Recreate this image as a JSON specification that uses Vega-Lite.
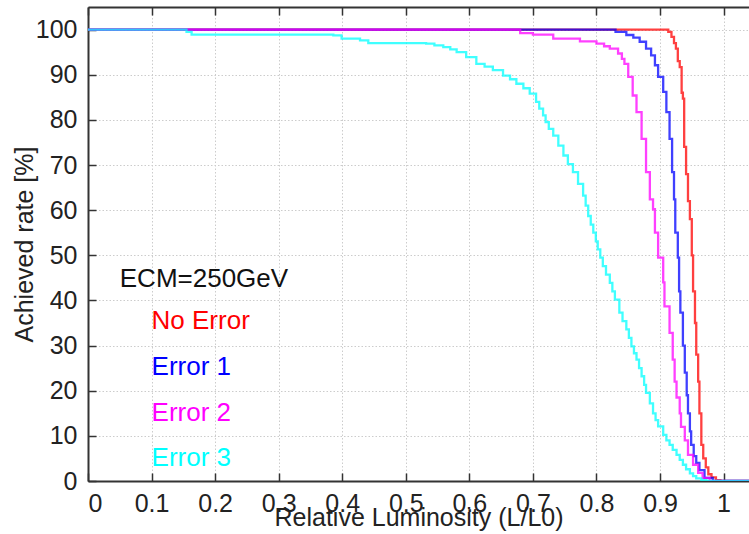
{
  "$schema": "https://vega.github.io/schema/vega-lite/v6.json",
  "width": 661,
  "height": 474,
  "autosize": "none",
  "padding": {"left": 88, "top": 7, "right": 0, "bottom": 53},
  "background": "white",
  "config": {
    "view": {"stroke": null},
    "font": "Liberation Sans",
    "axis": {
      "labelFont": "Liberation Sans",
      "titleFont": "Liberation Sans",
      "labelFontSize": 25,
      "titleFontSize": 25,
      "labelColor": "#222",
      "titleColor": "#222",
      "titleFontWeight": "normal",
      "domainColor": "#333",
      "domainWidth": 2,
      "tickColor": "#333",
      "tickWidth": 1.5,
      "tickSize": -8,
      "gridColor": "#cccccc",
      "gridDash": [1.5, 2],
      "gridWidth": 1
    }
  },
  "datasets": {
    "curves": [
      {"series": "No Error", "x": 0, "y": 100},
      {"series": "No Error", "x": 0.908, "y": 100},
      {"series": "No Error", "x": 0.913, "y": 99.5},
      {"series": "No Error", "x": 0.918, "y": 98.4},
      {"series": "No Error", "x": 0.922, "y": 97},
      {"series": "No Error", "x": 0.925, "y": 95.8},
      {"series": "No Error", "x": 0.928, "y": 93},
      {"series": "No Error", "x": 0.931, "y": 91.7},
      {"series": "No Error", "x": 0.934, "y": 86},
      {"series": "No Error", "x": 0.936, "y": 84.7},
      {"series": "No Error", "x": 0.938, "y": 74},
      {"series": "No Error", "x": 0.941, "y": 68},
      {"series": "No Error", "x": 0.944, "y": 62},
      {"series": "No Error", "x": 0.947, "y": 58},
      {"series": "No Error", "x": 0.95, "y": 50},
      {"series": "No Error", "x": 0.952, "y": 42},
      {"series": "No Error", "x": 0.955, "y": 35},
      {"series": "No Error", "x": 0.957, "y": 28},
      {"series": "No Error", "x": 0.96, "y": 22},
      {"series": "No Error", "x": 0.962, "y": 15},
      {"series": "No Error", "x": 0.965, "y": 8},
      {"series": "No Error", "x": 0.968, "y": 5},
      {"series": "No Error", "x": 0.972, "y": 3},
      {"series": "No Error", "x": 0.976, "y": 1.5},
      {"series": "No Error", "x": 0.981, "y": 0.8},
      {"series": "No Error", "x": 0.988, "y": 0.2},
      {"series": "No Error", "x": 0.995, "y": 0},
      {"series": "No Error", "x": 1.04, "y": 0},

      {"series": "Error 1", "x": 0, "y": 100},
      {"series": "Error 1", "x": 0.815, "y": 100},
      {"series": "Error 1", "x": 0.83, "y": 99.5},
      {"series": "Error 1", "x": 0.847, "y": 98.8},
      {"series": "Error 1", "x": 0.858, "y": 98.2},
      {"series": "Error 1", "x": 0.868, "y": 97.3},
      {"series": "Error 1", "x": 0.878, "y": 95.8},
      {"series": "Error 1", "x": 0.886, "y": 94.3},
      {"series": "Error 1", "x": 0.892, "y": 92.1},
      {"series": "Error 1", "x": 0.897, "y": 89.5},
      {"series": "Error 1", "x": 0.905, "y": 86.2},
      {"series": "Error 1", "x": 0.91, "y": 81.7},
      {"series": "Error 1", "x": 0.915, "y": 75.8},
      {"series": "Error 1", "x": 0.919, "y": 68.4},
      {"series": "Error 1", "x": 0.922, "y": 62.4},
      {"series": "Error 1", "x": 0.924, "y": 55},
      {"series": "Error 1", "x": 0.928, "y": 49.5},
      {"series": "Error 1", "x": 0.93, "y": 42},
      {"series": "Error 1", "x": 0.932, "y": 37.3},
      {"series": "Error 1", "x": 0.936, "y": 30},
      {"series": "Error 1", "x": 0.939, "y": 24},
      {"series": "Error 1", "x": 0.942, "y": 19},
      {"series": "Error 1", "x": 0.944, "y": 15},
      {"series": "Error 1", "x": 0.947, "y": 11},
      {"series": "Error 1", "x": 0.949, "y": 8},
      {"series": "Error 1", "x": 0.953, "y": 5.5},
      {"series": "Error 1", "x": 0.957, "y": 4},
      {"series": "Error 1", "x": 0.962, "y": 2.4},
      {"series": "Error 1", "x": 0.97, "y": 0.7},
      {"series": "Error 1", "x": 0.983, "y": 0},
      {"series": "Error 1", "x": 1.04, "y": 0},

      {"series": "Error 2", "x": 0, "y": 100},
      {"series": "Error 2", "x": 0.664, "y": 100},
      {"series": "Error 2", "x": 0.68, "y": 99.2},
      {"series": "Error 2", "x": 0.7, "y": 98.9},
      {"series": "Error 2", "x": 0.732, "y": 98},
      {"series": "Error 2", "x": 0.774, "y": 97.4},
      {"series": "Error 2", "x": 0.8, "y": 96.9},
      {"series": "Error 2", "x": 0.812, "y": 96.3},
      {"series": "Error 2", "x": 0.821, "y": 95.8},
      {"series": "Error 2", "x": 0.834, "y": 94.7},
      {"series": "Error 2", "x": 0.84, "y": 93.5},
      {"series": "Error 2", "x": 0.844, "y": 92.4},
      {"series": "Error 2", "x": 0.85, "y": 89.5},
      {"series": "Error 2", "x": 0.857, "y": 85.4},
      {"series": "Error 2", "x": 0.863, "y": 81.7},
      {"series": "Error 2", "x": 0.871, "y": 75.8},
      {"series": "Error 2", "x": 0.878, "y": 68.4},
      {"series": "Error 2", "x": 0.884, "y": 62.4},
      {"series": "Error 2", "x": 0.889, "y": 60.2},
      {"series": "Error 2", "x": 0.892, "y": 55},
      {"series": "Error 2", "x": 0.897, "y": 49.5},
      {"series": "Error 2", "x": 0.905, "y": 44},
      {"series": "Error 2", "x": 0.907, "y": 38.7},
      {"series": "Error 2", "x": 0.915, "y": 32.8},
      {"series": "Error 2", "x": 0.92, "y": 26.9},
      {"series": "Error 2", "x": 0.923, "y": 22},
      {"series": "Error 2", "x": 0.926, "y": 18.5},
      {"series": "Error 2", "x": 0.931, "y": 15},
      {"series": "Error 2", "x": 0.933, "y": 12},
      {"series": "Error 2", "x": 0.939, "y": 9},
      {"series": "Error 2", "x": 0.944, "y": 5.8},
      {"series": "Error 2", "x": 0.952, "y": 3.6},
      {"series": "Error 2", "x": 0.96, "y": 1.8},
      {"series": "Error 2", "x": 0.967, "y": 0.7},
      {"series": "Error 2", "x": 0.978, "y": 0},
      {"series": "Error 2", "x": 1.04, "y": 0},

      {"series": "Error 3", "x": 0, "y": 100},
      {"series": "Error 3", "x": 0.145, "y": 100},
      {"series": "Error 3", "x": 0.155, "y": 99.5},
      {"series": "Error 3", "x": 0.163, "y": 98.9},
      {"series": "Error 3", "x": 0.386, "y": 98.7},
      {"series": "Error 3", "x": 0.399, "y": 98},
      {"series": "Error 3", "x": 0.428, "y": 97.6},
      {"series": "Error 3", "x": 0.441, "y": 97},
      {"series": "Error 3", "x": 0.532, "y": 96.9},
      {"series": "Error 3", "x": 0.545, "y": 96.5},
      {"series": "Error 3", "x": 0.559, "y": 96.1},
      {"series": "Error 3", "x": 0.57, "y": 95.6},
      {"series": "Error 3", "x": 0.58, "y": 95},
      {"series": "Error 3", "x": 0.595, "y": 93.9},
      {"series": "Error 3", "x": 0.611, "y": 92.4},
      {"series": "Error 3", "x": 0.624, "y": 91.8},
      {"series": "Error 3", "x": 0.637, "y": 91},
      {"series": "Error 3", "x": 0.653, "y": 89.8},
      {"series": "Error 3", "x": 0.664, "y": 89},
      {"series": "Error 3", "x": 0.674, "y": 88},
      {"series": "Error 3", "x": 0.685, "y": 87},
      {"series": "Error 3", "x": 0.695, "y": 85.8},
      {"series": "Error 3", "x": 0.705, "y": 84},
      {"series": "Error 3", "x": 0.71, "y": 82.5},
      {"series": "Error 3", "x": 0.716, "y": 81},
      {"series": "Error 3", "x": 0.72, "y": 79.5},
      {"series": "Error 3", "x": 0.725, "y": 78},
      {"series": "Error 3", "x": 0.732, "y": 76.5},
      {"series": "Error 3", "x": 0.74, "y": 74.3},
      {"series": "Error 3", "x": 0.748, "y": 72.1},
      {"series": "Error 3", "x": 0.755, "y": 70.2},
      {"series": "Error 3", "x": 0.763, "y": 68.4},
      {"series": "Error 3", "x": 0.771, "y": 65.8},
      {"series": "Error 3", "x": 0.779, "y": 63.2},
      {"series": "Error 3", "x": 0.783, "y": 61},
      {"series": "Error 3", "x": 0.787, "y": 58.7},
      {"series": "Error 3", "x": 0.791, "y": 56.8},
      {"series": "Error 3", "x": 0.795, "y": 55},
      {"series": "Error 3", "x": 0.799, "y": 53.1},
      {"series": "Error 3", "x": 0.802, "y": 51.3},
      {"series": "Error 3", "x": 0.806, "y": 49.5},
      {"series": "Error 3", "x": 0.81, "y": 47.6},
      {"series": "Error 3", "x": 0.815, "y": 45.7},
      {"series": "Error 3", "x": 0.821, "y": 43.9},
      {"series": "Error 3", "x": 0.825, "y": 42},
      {"series": "Error 3", "x": 0.829, "y": 40.2},
      {"series": "Error 3", "x": 0.836, "y": 37.3},
      {"series": "Error 3", "x": 0.841, "y": 35.4},
      {"series": "Error 3", "x": 0.847, "y": 33.6},
      {"series": "Error 3", "x": 0.851, "y": 31.7},
      {"series": "Error 3", "x": 0.855, "y": 29.8},
      {"series": "Error 3", "x": 0.859, "y": 28.3},
      {"series": "Error 3", "x": 0.863, "y": 26.9},
      {"series": "Error 3", "x": 0.867, "y": 25},
      {"series": "Error 3", "x": 0.871, "y": 23.2},
      {"series": "Error 3", "x": 0.875, "y": 21.3},
      {"series": "Error 3", "x": 0.878, "y": 19.5},
      {"series": "Error 3", "x": 0.884, "y": 17.2},
      {"series": "Error 3", "x": 0.889, "y": 15},
      {"series": "Error 3", "x": 0.893, "y": 13.5},
      {"series": "Error 3", "x": 0.897, "y": 12.1},
      {"series": "Error 3", "x": 0.905, "y": 10.2},
      {"series": "Error 3", "x": 0.91, "y": 9},
      {"series": "Error 3", "x": 0.915, "y": 8},
      {"series": "Error 3", "x": 0.92, "y": 6.9},
      {"series": "Error 3", "x": 0.926, "y": 5.8},
      {"series": "Error 3", "x": 0.931, "y": 4.7},
      {"series": "Error 3", "x": 0.936, "y": 3.6},
      {"series": "Error 3", "x": 0.941, "y": 2.6},
      {"series": "Error 3", "x": 0.947, "y": 1.7},
      {"series": "Error 3", "x": 0.952, "y": 1.1},
      {"series": "Error 3", "x": 0.957, "y": 0.6},
      {"series": "Error 3", "x": 0.965, "y": 0.2},
      {"series": "Error 3", "x": 0.973, "y": 0},
      {"series": "Error 3", "x": 1.04, "y": 0}
    ],
    "labels": [
      {"series": "No Error", "x": 0.1, "y": 35.4},
      {"series": "Error 1", "x": 0.1, "y": 25.2},
      {"series": "Error 2", "x": 0.1, "y": 15.1},
      {"series": "Error 3", "x": 0.1, "y": 5.1}
    ],
    "note": [
      {"text": "ECM=250GeV", "x": 0.05, "y": 44.8}
    ]
  },
  "resolve": {"axis": {"x": "independent"}},
  "layer": [
    {
      "data": {"name": "curves"},
      "mark": {"type": "line", "interpolate": "step-after", "strokeWidth": 2.3, "opacity": 0.75, "clip": true},
      "encoding": {
        "x": {
          "field": "x", "type": "quantitative",
          "scale": {"domain": [0, 1.04], "nice": false, "zero": false},
          "axis": {
            "values": [0, 0.1, 0.2, 0.3, 0.4, 0.5, 0.6, 0.7, 0.8, 0.9, 1],
            "format": ".1~f",
            "title": "Relative Luminosity (L/L0)",
            "labelPadding": 18,
            "titlePadding": -11
          }
        },
        "y": {
          "field": "y", "type": "quantitative",
          "scale": {"domain": [0, 105], "nice": false},
          "axis": {
            "values": [0, 10, 20, 30, 40, 50, 60, 70, 80, 90, 100],
            "title": "Achieved rate [%]",
            "labelPadding": 19,
            "titlePadding": -2
          }
        },
        "color": {
          "field": "series", "type": "nominal",
          "scale": {"domain": ["No Error", "Error 1", "Error 2", "Error 3"], "range": ["#ff0000", "#0000ff", "#ff00ff", "#00ffff"]},
          "legend": null
        },
        "order": {"field": "x", "type": "quantitative"}
      }
    },
    {
      "data": {"name": "labels"},
      "mark": {"type": "text", "align": "left", "baseline": "middle", "fontSize": 26, "font": "Liberation Sans"},
      "encoding": {
        "x": {"field": "x", "type": "quantitative", "axis": {"orient": "top", "labels": false, "title": null, "grid": false, "values": [0, 0.1, 0.2, 0.3, 0.4, 0.5, 0.6, 0.7, 0.8, 0.9, 1]}},
        "y": {"field": "y", "type": "quantitative"},
        "text": {"field": "series"},
        "color": {"field": "series", "type": "nominal", "legend": null}
      }
    },
    {
      "data": {"name": "note"},
      "mark": {"type": "text", "align": "left", "baseline": "middle", "fontSize": 26, "font": "Liberation Sans", "color": "#111"},
      "encoding": {
        "x": {"field": "x", "type": "quantitative", "axis": null},
        "y": {"field": "y", "type": "quantitative"},
        "text": {"field": "text"}
      }
    }
  ]
}
